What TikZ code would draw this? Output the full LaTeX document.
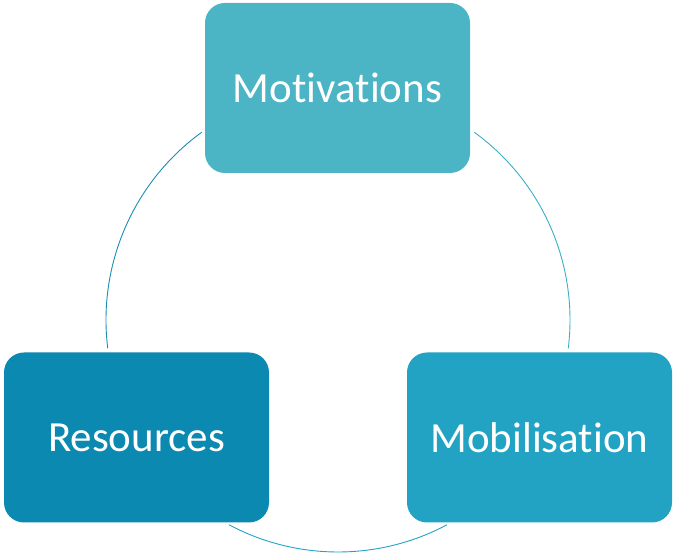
\documentclass[tikz,border=0pt]{standalone}
\usepackage{fontspec}
\setmainfont{Carlito}[Ligatures=NoCommon]
\usepackage{tikz}
\usepackage{xcolor}
\definecolor{motivcol}{HTML}{4BB4C5}
\definecolor{rescol}{HTML}{0B89B1}
\definecolor{mobcol}{HTML}{22A3C3}
\definecolor{arcleft}{HTML}{1A8DB5}
\definecolor{arcright}{HTML}{3AAFC4}
\definecolor{arcbottom}{HTML}{23A2C2}
\begin{document}
\begin{tikzpicture}[x=1pt, y=1pt,
  cyclebox/.style={rectangle, rounded corners=20pt, fill=#1, minimum width=265pt, minimum height=170pt, text=white, font=\fontsize{43}{50}\selectfont, anchor=center},
  ring/.style={draw=#1, line width=0.9pt}]
  \useasboundingbox (0,0) rectangle (673,556);
  \coordinate (hub) at (338,236);
  \draw[ring=arcleft] (hub) ++(126:232) arc[start angle=126, end angle=187, radius=232];
  \draw[ring=arcright] (hub) ++(54:232) arc[start angle=54, end angle=-7, radius=232];
  \draw[ring=arcbottom] (hub) ++(242:232) arc[start angle=242, end angle=298, radius=232];
  \node[cyclebox=motivcol] (motivations) at (337.5,468) {Motivations};
  \node[cyclebox=rescol] (resources) at (136.5,118.5) {Resources};
  \node[cyclebox=mobcol] (mobilisation) at (539.5,118.5) {Mobilisation};
\end{tikzpicture}
\end{document}
